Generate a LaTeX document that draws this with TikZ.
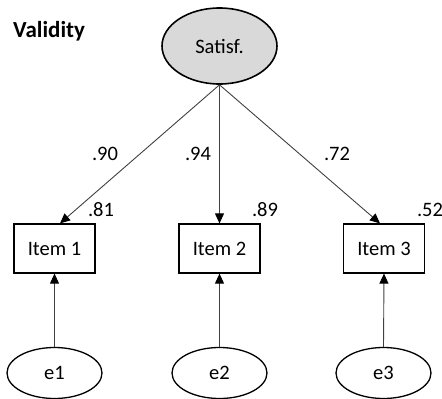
\documentclass[tikz,border=0pt]{standalone}
\usepackage{fontspec}
\setmainfont{Carlito}
\usetikzlibrary{shapes.geometric,arrows.meta}
\begin{document}
\begin{tikzpicture}[x=1pt,y=-1pt,
  latent/.style={ellipse,draw=black,line width=1.6pt,fill=gray!30,minimum width=115pt,minimum height=76pt,inner sep=0pt,font=\fontsize{20.5}{22}\selectfont},
  errv/.style={ellipse,draw=black,line width=1.3pt,fill=white,minimum width=95pt,minimum height=51pt,inner sep=0pt,font=\fontsize{20.5}{22}\selectfont},
  itembox/.style={rectangle,draw=black,line width=1.2pt,minimum width=81pt,minimum height=49pt,inner sep=0pt,font=\fontsize{20.5}{22}\selectfont},
  conn/.style={draw=black!75,line width=0.9pt,-{Triangle[length=10pt,width=9pt,color=black]}},
  lbl/.style={font=\fontsize{20.5}{22}\selectfont,inner sep=0pt}]
\useasboundingbox (0,0) rectangle (442,399);
\node[font=\bfseries\fontsize{23}{25}\selectfont,anchor=west,inner sep=0pt] (title) at (13,31) {Validity};
\node[latent] (S) at (219.5,46) {Satisf.};
\node[itembox] (i1) at (54.5,248.5) {Item 1};
\node[itembox] (i2) at (219.5,248.5) {Item 2};
\node[itembox] (i3) at (384,248.5) {Item 3};
\node[errv] (e1) at (54.5,373) {e1};
\node[errv] (e2) at (219.5,373) {e2};
\node[errv] (e3) at (383.5,373) {e3};
\draw[conn] (S.south) -- ([xshift=5.5pt]i1.north);
\draw[conn] (S.south) -- (i2.north);
\draw[conn] (S.south) -- ([xshift=-4pt]i3.north);
\draw[conn] (e1.north) -- (i1.south);
\draw[conn] (e2.north) -- (i2.south);
\draw[conn] (e3.north) -- (i3.south);
\node[lbl] (l1) at (105,154) {.90};
\node[lbl] (l2) at (198,154) {.94};
\node[lbl] (l3) at (337,154) {.72};
\node[lbl] (r1) at (101,210) {.81};
\node[lbl] (r2) at (265,210) {.89};
\node[lbl] (r3) at (430,210) {.52};
\end{tikzpicture}
\end{document}
